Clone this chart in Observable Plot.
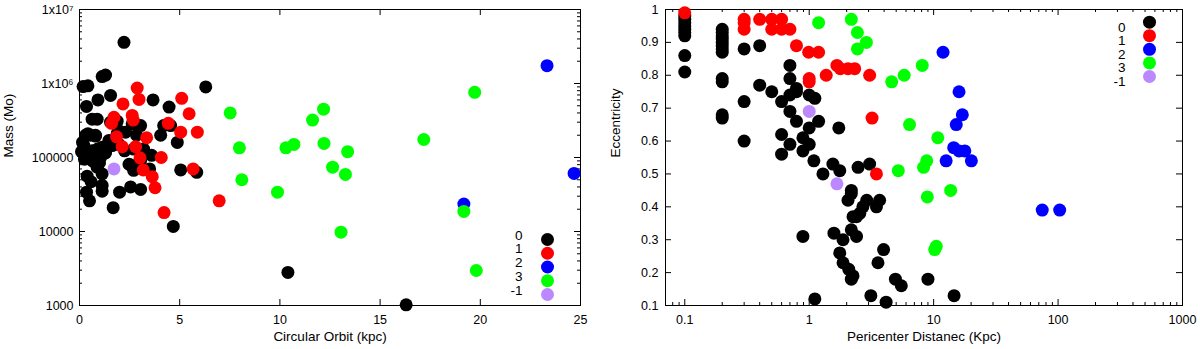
<!DOCTYPE html>
<html><head><meta charset="utf-8">
<script src="https://cdn.jsdelivr.net/npm/d3@7"></script>
<script src="https://cdn.jsdelivr.net/npm/@observablehq/plot@0.6"></script>
<style>
body{margin:0;background:#fff;font-family:"Liberation Sans",Arial,sans-serif}
#wrap{display:flex;width:1200px;height:349px}
</style></head><body><div id="wrap"></div>
<script>
// ---- categories / legend ----
const groups = ["0","1","2","3","-1"];
const groupColors = ["#000000","#ff0000","#0000ff","#00ff00","#bb88ff"];

// ---- left panel: circular orbit (kpc) vs mass ----
const orbit0 = [2.22,0.18,0.42,1.13,1.3,6.3,0.92,1.55,3.67,0.35,4.47,0.63,0.88,1.55,1.88,2.63,3.05,4.2,4.55,0.42,0.8,2.3,1.88,2.85,4.05,4.88,1.47,2.25,3.2,3.6,2.7,5.05,5.85,2.55,2.7,3.05,3.5,1.13,0.38,0.58,1.13,2.55,3.05,0.35,1.13,2.0,0.5,1.68,4.68,10.4,16.3,0.3,0.8,0.22,0.63,1.13,0.47,1.05,1.63,1.97,1.47,2.47,0.88,0.1,0.25,0.65,1.3,0.9,0.15,1.0,1.97,0.55];
const mass0  = [3.6e6,9.1e5,9.3e5,1.24e6,1.3e6,9e5,6e5,6.9e5,6e5,4.9e5,4.8e5,3.3e5,3.3e5,3e5,3.1e5,2.85e5,2.7e5,2.7e5,2.7e5,2.1e5,2e5,2.2e5,2.1e5,2e5,2e5,1.6e5,1.6e5,1.23e5,1.3e5,1.07e5,1.3e5,6.8e4,6.3e4,7.9e4,6.7e4,9.1e4,7.0e4,6.0e4,5.6e4,4.7e4,4.2e4,4.0e4,3.7e4,3.4e4,3.5e4,3.4e4,2.6e4,2.1e4,1.17e4,2.8e3,1020,2.0e5,1.95e5,1.45e5,1.23e5,1.38e5,1.07e5,1.0e5,1.45e5,1.5e5,1.7e5,8.1e4,7.4e4,1.2e5,9.5e4,9e4,1.15e5,1.3e5,1.6e5,8.5e4,2.3e5,2e5];
const orbit1 = [2.88,2.97,2.17,5.1,5.47,2.63,1.72,2.68,1.6,4.43,5.05,5.88,1.85,3.35,2.13,2.8,3.02,4.08,3.18,5.67,3.63,3.77,6.97,4.22];
const mass1  = [8.7e5,6.1e5,5.3e5,6.3e5,3.9e5,3.7e5,3.5e5,3.2e5,2.9e5,2.9e5,2.2e5,2.2e5,1.9e5,1.85e5,1.4e5,1.4e5,9.9e4,1.0e5,6.8e4,7.0e4,5.5e4,3.9e4,2.6e4,1.8e4];
const orbit2 = [23.33,24.68,19.18];
const mass2  = [1.74e6,6.1e4,2.35e4];
const orbit3 = [7.52,7.98,8.1,9.88,10.3,10.7,11.63,12.18,12.2,12.63,13.27,13.38,13.05,17.18,19.72,19.18,19.8];
const mass3  = [4.0e5,1.35e5,5.0e4,3.4e4,1.35e5,1.5e5,3.2e5,4.5e5,1.55e5,7.4e4,5.9e4,1.2e5,9.8e3,1.75e5,7.6e5,1.87e4,2.97e3];
const orbitM1 = [1.72];
const massM1  = [7.0e4];

// ---- right panel: pericenter distance (kpc) vs eccentricity ----
const peri0 = [0.1,0.1,0.1,0.1,0.1,0.1,0.1,0.1,0.1,
  0.2,0.2,0.2,0.2,0.2,0.2,0.2,0.2,0.2,0.2,0.2,0.2,
  0.3,0.3,0.3,0.4,0.4,0.5,0.6,0.6,0.6,0.7,0.7,0.7,0.7,0.7,0.79,0.79,0.79,0.89,0.89,0.89,1.0,1.0,1.0,
  1.11,1.19,1.09,1.29,1.11,1.73,1.55,1.76,2.47,3.06,2.18,2.18,2.05,2.25,2.4,2.55,2.7,2.9,3.68,3.47,
  2.18,2.4,1.58,1.87,1.76,1.87,2.08,2.25,2.18,3.13,3.96,3.57,4.15,4.93,5.5,9.0,14.6];
const ecc0  = [0.92,0.93,0.94,0.95,0.96,0.97,0.98,0.86,0.81,
  0.94,0.93,0.92,0.91,0.90,0.89,0.88,0.87,0.79,0.78,0.68,0.67,
  0.88,0.72,0.60,0.89,0.77,0.75,0.72,0.62,0.56,0.83,0.79,0.74,0.69,0.59,0.76,0.75,0.66,0.61,0.57,0.31,0.74,0.64,0.59,
  0.73,0.66,0.54,0.50,0.12,0.64,0.53,0.51,0.52,0.53,0.45,0.44,0.42,0.37,0.37,0.38,0.40,0.42,0.42,0.40,
  0.33,0.31,0.32,0.30,0.26,0.23,0.21,0.19,0.18,0.13,0.27,0.23,0.11,0.18,0.16,0.18,0.13];
const peri1 = [0.1,0.3,0.3,0.3,0.4,0.5,0.5,0.6,0.6,0.7,0.79,0.99,1.19,1.0,1.0,1.37,1.67,1.78,2.05,2.32,3.06,3.2,3.47];
const ecc1  = [0.99,0.97,0.96,0.94,0.97,0.97,0.94,0.97,0.94,0.94,0.89,0.87,0.87,0.79,0.78,0.80,0.83,0.82,0.82,0.82,0.80,0.67,0.50];
const peri2 = [11.9,16,17,15.2,14.5,16,17.8,12.6,20.1,74.6,103];
const ecc2  = [0.87,0.75,0.68,0.65,0.58,0.57,0.57,0.54,0.54,0.39,0.39];
const peri3 = [1.19,2.18,2.44,2.88,2.44,4.6,5.8,8.1,6.4,10.8,8.8,8.3,5.2,8.9,13.7,10.5,10.2];
const ecc3  = [0.96,0.97,0.93,0.90,0.88,0.78,0.80,0.83,0.65,0.61,0.54,0.52,0.51,0.43,0.45,0.28,0.27];
const periM1 = [1.0,1.67];
const eccM1  = [0.69,0.47];

// ---- tick values / labels ----
const massTicks = [1e3,1e4,1e5,1e6,1e7];
const massTickLabels = ["1000","10000","100000","1x10\u2076","1x10\u2077"];
const orbitTicks = [0,5,10,15,20,25];
const periTicks = [0.1,1,10,100,1000];
const periTickLabels = ["0.1","1","10","100","1000"];
const eccTicks = [0.1,0.2,0.3,0.4,0.5,0.6,0.7,0.8,0.9,1.0];
const eccTickLabels = ["0.1","0.2","0.3","0.4","0.5","0.6","0.7","0.8","0.9","1"];

// ---- helpers ----
const zip = (xs, ys) => xs.map((x, i) => ({x, y: ys[i]}));
const minorLog = (lo, hi) => {
  const out = [];
  for (let d = lo; d < hi; d *= 10) for (let k = 2; k <= 9; k++) out.push(d * k);
  return out;
};
const font = "Liberation Sans, Arial, Helvetica, sans-serif";
const W = 600, H = 349, MT = 9, MB = 44;
const innerH = H - MT - MB;

function inwardTicks(xMajor, xMinor, yMajor, yMinor, innerW) {
  const M = 6, m = 3, st = {stroke: "#000", strokeWidth: 1};
  const marks = [];
  const xt = (vals, len) => [
    Plot.tickX(vals, {x: d => d, insetTop: innerH - len, ...st}),
    Plot.tickX(vals, {x: d => d, insetBottom: innerH - len, ...st})
  ];
  const yt = (vals, len) => [
    Plot.tickY(vals, {y: d => d, insetRight: innerW - len, ...st}),
    Plot.tickY(vals, {y: d => d, insetLeft: innerW - len, ...st})
  ];
  marks.push(...xt(xMajor, M), ...xt(xMinor, m), ...yt(yMajor, M), ...yt(yMinor, m));
  return marks;
}

function legendMarks(anchor, dxDot, dxText, dys) {
  const marks = [];
  groups.forEach((g, i) => {
    marks.push(Plot.dot([g], {frameAnchor: anchor, dx: dxDot, dy: dys[i], r: 6.5, fill: groupColors[i]}));
    marks.push(Plot.text([g], {frameAnchor: anchor, dx: dxText, dy: dys[i], text: d => d, textAnchor: "end", fontSize: 13.5, fill: "#000"}));
  });
  return marks;
}

// ---- left chart ----
const leftSets = [zip(orbit0, mass0), zip(orbit1, mass1), zip(orbit2, mass2), zip(orbit3, mass3), zip(orbitM1, massM1)];
const mlL = 79, mrL = 20;
const left = Plot.plot({
  width: W, height: H, marginLeft: mlL, marginRight: mrL, marginTop: MT, marginBottom: MB,
  style: {fontFamily: font, fontSize: "12px", background: "#fff", color: "#000"},
  x: {domain: [0, 25]},
  y: {type: "log", domain: [1000, 1e7]},
  marks: [
    Plot.axisX(orbitTicks, {anchor: "bottom", tickSize: 0, tickPadding: 10, label: null, fontSize: 12.5}),
    Plot.axisY(massTicks, {anchor: "left", tickSize: 0, tickPadding: 6, label: null, fontSize: 12.5,
      tickFormat: d => massTickLabels[massTicks.indexOf(d)]}),
    ...inwardTicks(orbitTicks.slice(1, -1), [], massTicks, minorLog(1e3, 1e7), W - mlL - mrL),
    Plot.frame({stroke: "#000"}),
    ...leftSets.map((s, i) => Plot.dot(s, {x: "x", y: "y", r: 6.5, fill: groupColors[i]})),
    ...legendMarks("bottom-right", -33, -58, [-66, -52.25, -38.5, -24.75, -11]),
    Plot.text(["Circular Orbit (kpc)"], {frameAnchor: "bottom", dy: 35, text: d => d, fontSize: 13.5}),
    Plot.text(["Mass (Mo)"], {frameAnchor: "left", dx: -71, rotate: -90, text: d => d, fontSize: 13.5})
  ]
});

// ---- right chart ----
const rightSets = [zip(peri0, ecc0), zip(peri1, ecc1), zip(peri2, ecc2), zip(peri3, ecc3), zip(periM1, eccM1)];
const mlR = 65, mrR = 18;
const right = Plot.plot({
  width: W, height: H, marginLeft: mlR, marginRight: mrR, marginTop: MT, marginBottom: MB,
  style: {fontFamily: font, fontSize: "12px", background: "#fff", color: "#000"},
  x: {type: "log", domain: [0.07, 1000]},
  y: {domain: [0.1, 1]},
  marks: [
    Plot.axisX(periTicks, {anchor: "bottom", tickSize: 0, tickPadding: 10, label: null, fontSize: 12.5,
      tickFormat: d => periTickLabels[periTicks.indexOf(d)]}),
    Plot.axisY(eccTicks, {anchor: "left", tickSize: 0, tickPadding: 7, label: null, fontSize: 12.5,
      tickFormat: (d, i) => eccTickLabels[i]}),
    ...inwardTicks(periTicks, [0.08, 0.09, ...minorLog(0.1, 1000)], eccTicks, [], W - mlR - mrR),
    Plot.frame({stroke: "#000"}),
    ...rightSets.map((s, i) => Plot.dot(s, {x: "x", y: "y", r: 6.5, fill: groupColors[i]})),
    ...legendMarks("top-right", -33, -57, [12.7, 26.2, 39.8, 53.4, 67]),
    Plot.text(["Pericenter Distanec (Kpc)"], {frameAnchor: "bottom", dy: 35, text: d => d, fontSize: 13.5}),
    Plot.text(["Eccentricity"], {frameAnchor: "left", dx: -50, rotate: -90, text: d => d, fontSize: 13.5})
  ]
});

document.getElementById("wrap").append(left, right);
</script></body></html>
